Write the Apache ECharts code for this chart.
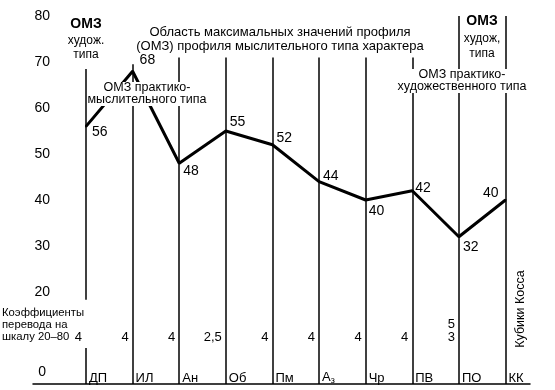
<!DOCTYPE html>
<html><head><meta charset="utf-8">
<script src="https://cdn.jsdelivr.net/npm/echarts@6/dist/echarts.min.js"></script>
<style>html,body{margin:0;padding:0;background:#fff}#c{width:555px;height:390px}</style>
</head><body><div id="c"></div>
<script>
// ---- data ----
const categories = ['ДП','ИЛ','Ан','Об','Пм','Аз','Чр','ПВ','ПО','КК'];
const values = [56, 68, 48, 55, 52, 44, 40, 42, 32, 40];
const coefficients = ['4','4','4','2,5','4','4','4','4','5\n3',''];
const yTickLabels = ['0','','20','30','40','50','60','70','80'];
// upper end (axis units) of the column divider drawn at each category
const dividerTop = [68.5, 69.5, 71, 71, 71, 71, 71, 71, 80, 80];

// ---- layout / style ----
const FONT = '"Liberation Sans", Arial, sans-serif';
const labelLayout = [
  ['right', 6, 5], ['right', -11, 6], ['right', 8, 3], ['right', -9, 3], ['right', -7, 3],
  ['right', -5, 3], ['right', 11, 2], ['right', -3, 2], ['right', 10, 3], ['left', -7, 6]
];

const seriesData = values.map((v, i) => ({
  value: v,
  label: { position: labelLayout[i][0], offset: [0, labelLayout[i][1]], distance: labelLayout[i][2] }
}));

const dividers = [];
categories.forEach((c, i) => {
  if (i === 0) {
    dividers.push([{ xAxis: c, yAxis: dividerTop[i] }, { xAxis: c, yAxis: 18.3 }]);
    dividers.push([{ xAxis: c, yAxis: 7.8 }, { xAxis: c, yAxis: 0 }]);
  } else {
    dividers.push([{ xAxis: c, yAxis: dividerTop[i] }, { xAxis: c, yAxis: 0 }]);
  }
});

const txt = (x, y, text, extra) => ({
  type: 'text', x: x, y: y, z: 100,
  style: Object.assign({ text: text, fill: '#000', font: '12px ' + FONT,
    align: 'center', verticalAlign: 'top', lineHeight: 13,
    backgroundColor: '#fff' }, extra || {})
});
const omzRich = { b: { font: 'bold 14px ' + FONT, fill: '#000', lineHeight: 19 } };

const chart = echarts.init(document.getElementById('c'), null, { renderer: 'canvas' });
chart.setOption({
  backgroundColor: '#fff',
  animation: false,
  grid: [
    { left: 86, right: 49.5, top: 16, bottom: 6 },
    { left: 33, right: 25, top: 16, bottom: 6 }
  ],
  xAxis: [
    { type: 'category', data: categories, boundaryGap: false, gridIndex: 0,
      axisLine: { show: false }, axisTick: { show: false }, splitLine: { show: false },
      axisLabel: { inside: true, margin: -1, align: 'left', padding: [0, 0, 0, 3],
        color: '#000', fontSize: 13, fontFamily: FONT, interval: 0,
        formatter: v => v === 'Аз' ? '{a|А}{s|з}' : v,
        rich: { a: { fontSize: 13, fontFamily: FONT, color: '#000' },
                s: { fontSize: 9, fontFamily: FONT, color: '#000', padding: [6, 0, 0, 0] } } } },
    { type: 'category', data: categories, boundaryGap: false, gridIndex: 0, position: 'bottom',
      axisLine: { show: false }, axisTick: { show: false }, splitLine: { show: false },
      axisLabel: { inside: true, margin: 40, align: 'right', padding: [0, 4, 0, 0],
        color: '#000', fontSize: 13, fontFamily: FONT, lineHeight: 13, interval: 0,
        formatter: (v, i) => coefficients[i] } },
    { type: 'value', gridIndex: 1, min: 0, max: 1,
      axisLine: { show: true, onZero: false, lineStyle: { color: '#000', width: 1.5 } },
      axisTick: { show: false }, axisLabel: { show: false }, splitLine: { show: false } }
  ],
  yAxis: [
    { type: 'value', min: 0, max: 80, interval: 10, gridIndex: 0,
      axisLine: { show: false }, axisTick: { show: false }, splitLine: { show: false },
      axisLabel: { margin: 36, color: '#000', fontSize: 14, fontFamily: FONT,
        formatter: v => { const s = yTickLabels[v / 10]; return s === '0' ? '{z|0}' : s; },
        rich: { z: { fontSize: 14, fontFamily: FONT, color: '#000', padding: [0, 4, 24, 0] } } } },
    { type: 'value', gridIndex: 1, show: false, min: 0, max: 1 }
  ],
  series: [{
    type: 'line', xAxisIndex: 0, yAxisIndex: 0, data: seriesData,
    symbol: 'circle', symbolSize: 2, showSymbol: true, itemStyle: { color: '#000' },
    lineStyle: { color: '#000', width: 3 }, z: 3,
    label: { show: true, color: '#000', fontSize: 14, fontFamily: FONT },
    markLine: { silent: true, symbol: ['none', 'none'], animation: false,
      label: { show: false }, lineStyle: { color: '#000', width: 1.5, type: 'solid' },
      data: dividers }
  }],
  graphic: [
    txt(86, 15, '{b|ОМЗ}\nхудож.\nтипа', { rich: omzRich, lineHeight: 14 }),
    txt(280, 25, 'Область максимальных значений профиля\n(ОМЗ) профиля мыслительного типа характера',
        { font: '13px ' + FONT, lineHeight: 14 }),
    txt(482, 12, '{b|ОМЗ}\nхудож,\nтипа', { rich: omzRich, lineHeight: 15 }),
    txt(147, 82, 'ОМЗ практико-\nмыслительного типа', { font: '12.5px ' + FONT, lineHeight: 12 }),
    txt(462, 69, 'ОМЗ практико-\nхудожественного типа', { font: '12.5px ' + FONT, lineHeight: 12 }),
    txt(2, 307, 'Коэффициенты\nперевода на\nшкалу 20–80', { align: 'left', lineHeight: 12, font: '11.3px ' + FONT, backgroundColor: null }),
    { type: 'text', x: 521, y: 309, rotation: Math.PI / 2, z: 100,
      style: { text: 'Кубики Косса', fill: '#000', font: '12.5px ' + FONT, align: 'center', verticalAlign: 'middle' } }
  ]
});
</script></body></html>
